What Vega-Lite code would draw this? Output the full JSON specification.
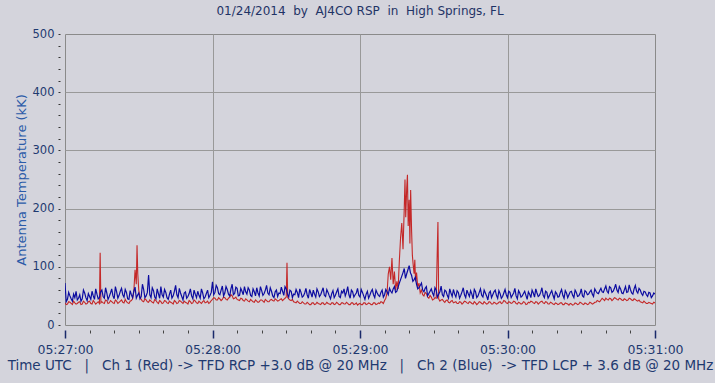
{
"$schema":"https://vega.github.io/schema/vega-lite/v6.json",
"width":590,"height":291,
"autosize":"none",
"padding":{"left":65,"top":34,"right":60,"bottom":58},
"background":"#D4D4DC",
"title":{"text":"01/24/2014 \u00a0by \u00a0AJ4CO RSP \u00a0in \u00a0High Springs, FL","font":"DejaVu Sans","fontSize":12,"fontWeight":"normal","color":"#1F3366","anchor":"middle","offset":10},
"datasets":{
"red":[{"t":0,"v":38},{"t":1,"v":36},{"t":2,"v":39},{"t":3,"v":35},{"t":4,"v":38},{"t":5,"v":37},{"t":6,"v":40},{"t":7,"v":36},{"t":8,"v":39},{"t":9,"v":37},{"t":10,"v":41},{"t":11,"v":36},{"t":12,"v":39},{"t":13,"v":38},{"t":14,"v":37},{"t":14.3,"v":124},{"t":14.6,"v":38},{"t":15,"v":40},{"t":16,"v":37},{"t":17,"v":42},{"t":18,"v":38},{"t":19,"v":40},{"t":20,"v":37},{"t":21,"v":41},{"t":22,"v":39},{"t":23,"v":43},{"t":24,"v":38},{"t":25,"v":40},{"t":26,"v":37},{"t":27,"v":42},{"t":28,"v":58},{"t":28.5,"v":95},{"t":29,"v":70},{"t":29.3,"v":137},{"t":29.6,"v":88},{"t":30,"v":60},{"t":31,"v":44},{"t":32,"v":40},{"t":33,"v":43},{"t":34,"v":39},{"t":35,"v":41},{"t":36,"v":38},{"t":37,"v":42},{"t":38,"v":37},{"t":39,"v":40},{"t":40,"v":38},{"t":41,"v":41},{"t":42,"v":37},{"t":43,"v":39},{"t":44,"v":36},{"t":45,"v":40},{"t":46,"v":38},{"t":47,"v":41},{"t":48,"v":37},{"t":49,"v":39},{"t":50,"v":36},{"t":51,"v":40},{"t":52,"v":38},{"t":53,"v":41},{"t":54,"v":37},{"t":55,"v":39},{"t":56,"v":40},{"t":57,"v":38},{"t":58,"v":41},{"t":59,"v":39},{"t":60,"v":44},{"t":61,"v":46},{"t":62,"v":43},{"t":63,"v":45},{"t":64,"v":44},{"t":65,"v":47},{"t":66,"v":43},{"t":67,"v":48},{"t":68,"v":50},{"t":69,"v":46},{"t":70,"v":44},{"t":71,"v":42},{"t":72,"v":45},{"t":73,"v":41},{"t":74,"v":43},{"t":75,"v":40},{"t":76,"v":42},{"t":77,"v":39},{"t":78,"v":41},{"t":79,"v":40},{"t":80,"v":43},{"t":81,"v":39},{"t":82,"v":42},{"t":83,"v":40},{"t":84,"v":44},{"t":85,"v":41},{"t":86,"v":43},{"t":87,"v":42},{"t":88,"v":45},{"t":89,"v":44},{"t":90,"v":48},{"t":90.3,"v":107},{"t":90.6,"v":47},{"t":91,"v":45},{"t":92,"v":42},{"t":93,"v":40},{"t":94,"v":38},{"t":95,"v":39},{"t":96,"v":37},{"t":97,"v":38},{"t":98,"v":36},{"t":99,"v":37},{"t":100,"v":35},{"t":101,"v":38},{"t":102,"v":36},{"t":103,"v":37},{"t":104,"v":35},{"t":105,"v":38},{"t":106,"v":36},{"t":107,"v":37},{"t":108,"v":35},{"t":109,"v":38},{"t":110,"v":36},{"t":111,"v":37},{"t":112,"v":35},{"t":113,"v":38},{"t":114,"v":36},{"t":115,"v":37},{"t":116,"v":35},{"t":117,"v":38},{"t":118,"v":36},{"t":119,"v":34},{"t":120,"v":37},{"t":121,"v":35},{"t":122,"v":38},{"t":123,"v":36},{"t":124,"v":37},{"t":125,"v":35},{"t":126,"v":38},{"t":127,"v":36},{"t":128,"v":37},{"t":129,"v":39},{"t":130,"v":42},{"t":131,"v":55},{"t":131.5,"v":88},{"t":132,"v":100},{"t":132.5,"v":78},{"t":133,"v":115},{"t":133.5,"v":70},{"t":134,"v":92},{"t":134.5,"v":60},{"t":135,"v":75},{"t":135.5,"v":62},{"t":136,"v":110},{"t":136.5,"v":150},{"t":137,"v":175},{"t":137.5,"v":130},{"t":138,"v":200},{"t":138.3,"v":250},{"t":138.6,"v":185},{"t":139,"v":235},{"t":139.3,"v":258},{"t":139.6,"v":170},{"t":140,"v":215},{"t":140.3,"v":140},{"t":140.6,"v":232},{"t":141,"v":160},{"t":141.3,"v":120},{"t":141.6,"v":105},{"t":142,"v":88},{"t":142.3,"v":112},{"t":142.6,"v":75},{"t":143,"v":90},{"t":143.5,"v":65},{"t":144,"v":72},{"t":144.5,"v":55},{"t":145,"v":60},{"t":146,"v":50},{"t":147,"v":54},{"t":148,"v":46},{"t":149,"v":48},{"t":150,"v":44},{"t":151,"v":46},{"t":151.7,"v":177},{"t":152,"v":45},{"t":153,"v":43},{"t":154,"v":41},{"t":155,"v":42},{"t":156,"v":39},{"t":157,"v":41},{"t":158,"v":38},{"t":159,"v":40},{"t":160,"v":37},{"t":161,"v":39},{"t":162,"v":38},{"t":163,"v":40},{"t":164,"v":37},{"t":165,"v":39},{"t":166,"v":36},{"t":167,"v":38},{"t":168,"v":37},{"t":169,"v":39},{"t":170,"v":36},{"t":171,"v":38},{"t":172,"v":37},{"t":173,"v":39},{"t":174,"v":36},{"t":175,"v":38},{"t":176,"v":37},{"t":177,"v":40},{"t":178,"v":38},{"t":179,"v":41},{"t":180,"v":37},{"t":181,"v":39},{"t":182,"v":38},{"t":183,"v":40},{"t":184,"v":36},{"t":185,"v":38},{"t":186,"v":37},{"t":187,"v":39},{"t":188,"v":36},{"t":189,"v":38},{"t":190,"v":40},{"t":191,"v":37},{"t":192,"v":39},{"t":193,"v":38},{"t":194,"v":41},{"t":195,"v":37},{"t":196,"v":39},{"t":197,"v":36},{"t":198,"v":38},{"t":199,"v":35},{"t":200,"v":37},{"t":201,"v":36},{"t":202,"v":38},{"t":203,"v":35},{"t":204,"v":37},{"t":205,"v":34},{"t":206,"v":36},{"t":207,"v":35},{"t":208,"v":37},{"t":209,"v":36},{"t":210,"v":38},{"t":211,"v":35},{"t":212,"v":37},{"t":213,"v":36},{"t":214,"v":38},{"t":215,"v":37},{"t":216,"v":39},{"t":217,"v":41},{"t":218,"v":43},{"t":219,"v":44},{"t":220,"v":46},{"t":221,"v":43},{"t":222,"v":45},{"t":223,"v":44},{"t":224,"v":46},{"t":225,"v":43},{"t":226,"v":45},{"t":227,"v":42},{"t":228,"v":44},{"t":229,"v":43},{"t":230,"v":45},{"t":231,"v":42},{"t":232,"v":44},{"t":233,"v":41},{"t":234,"v":40},{"t":235,"v":38},{"t":236,"v":39},{"t":237,"v":37},{"t":238,"v":38},{"t":239,"v":36},{"t":240,"v":38},
{"t":0.5,"v":35},{"t":1.5,"v":40},{"t":2.5,"v":37},{"t":3.5,"v":41},{"t":4.5,"v":36},{"t":5.5,"v":39},{"t":6.5,"v":35},{"t":7.5,"v":41},{"t":8.5,"v":36},{"t":9.5,"v":40},{"t":10.5,"v":37},{"t":11.5,"v":42},{"t":12.5,"v":36},{"t":13.5,"v":40},{"t":15.5,"v":38},{"t":16.5,"v":43},{"t":17.5,"v":37},{"t":18.5,"v":42},{"t":19.5,"v":38},{"t":20.5,"v":43},{"t":21.5,"v":37},{"t":22.5,"v":41},{"t":23.5,"v":39},{"t":24.5,"v":44},{"t":25.5,"v":38},{"t":26.5,"v":41},{"t":27.5,"v":45},{"t":30.5,"v":48},{"t":31.5,"v":41},{"t":32.5,"v":45},{"t":33.5,"v":40},{"t":34.5,"v":43},{"t":35.5,"v":39},{"t":36.5,"v":44},{"t":37.5,"v":39},{"t":38.5,"v":42},{"t":39.5,"v":37},{"t":40.5,"v":42},{"t":41.5,"v":38},{"t":42.5,"v":41},{"t":43.5,"v":38},{"t":44.5,"v":42},{"t":45.5,"v":37},{"t":46.5,"v":42},{"t":47.5,"v":39},{"t":48.5,"v":41},{"t":49.5,"v":38},{"t":50.5,"v":42},{"t":51.5,"v":37},{"t":52.5,"v":43},{"t":53.5,"v":38},{"t":54.5,"v":41},{"t":55.5,"v":37},{"t":56.5,"v":42},{"t":57.5,"v":39},{"t":58.5,"v":37},{"t":59.5,"v":42},{"t":60.5,"v":47},{"t":61.5,"v":43},{"t":62.5,"v":47},{"t":63.5,"v":42},{"t":64.5,"v":48},{"t":65.5,"v":44},{"t":66.5,"v":46},{"t":67.5,"v":52},{"t":68.5,"v":45},{"t":69.5,"v":48},{"t":70.5,"v":43},{"t":71.5,"v":46},{"t":72.5,"v":42},{"t":73.5,"v":45},{"t":74.5,"v":41},{"t":75.5,"v":44},{"t":76.5,"v":40},{"t":77.5,"v":43},{"t":78.5,"v":39},{"t":79.5,"v":43},{"t":80.5,"v":41},{"t":81.5,"v":44},{"t":82.5,"v":40},{"t":83.5,"v":43},{"t":84.5,"v":42},{"t":85.5,"v":45},{"t":86.5,"v":41},{"t":87.5,"v":44},{"t":88.5,"v":42},{"t":89.5,"v":46},{"t":91.5,"v":43},{"t":92.5,"v":44},{"t":93.5,"v":39},{"t":94.5,"v":41},{"t":95.5,"v":37},{"t":96.5,"v":40},{"t":97.5,"v":36},{"t":98.5,"v":39},{"t":99.5,"v":35},{"t":100.5,"v":38},{"t":101.5,"v":35},{"t":102.5,"v":39},{"t":103.5,"v":36},{"t":104.5,"v":38},{"t":105.5,"v":35},{"t":106.5,"v":39},{"t":107.5,"v":36},{"t":108.5,"v":38},{"t":109.5,"v":35},{"t":110.5,"v":39},{"t":111.5,"v":35},{"t":112.5,"v":38},{"t":113.5,"v":36},{"t":114.5,"v":39},{"t":115.5,"v":35},{"t":116.5,"v":38},{"t":117.5,"v":35},{"t":118.5,"v":38},{"t":119.5,"v":36},{"t":120.5,"v":35},{"t":121.5,"v":38},{"t":122.5,"v":35},{"t":123.5,"v":38},{"t":124.5,"v":35},{"t":125.5,"v":38},{"t":126.5,"v":35},{"t":127.5,"v":38},{"t":128.5,"v":40},{"t":129.5,"v":37},{"t":130.5,"v":46},{"t":145.5,"v":52},{"t":146.5,"v":56},{"t":147.5,"v":48},{"t":148.5,"v":51},{"t":149.5,"v":43},{"t":150.5,"v":47},{"t":152.5,"v":41},{"t":153.5,"v":44},{"t":154.5,"v":39},{"t":155.5,"v":43},{"t":156.5,"v":38},{"t":157.5,"v":42},{"t":158.5,"v":39},{"t":159.5,"v":37},{"t":160.5,"v":40},{"t":161.5,"v":36},{"t":162.5,"v":41},{"t":163.5,"v":38},{"t":164.5,"v":40},{"t":165.5,"v":37},{"t":166.5,"v":40},{"t":167.5,"v":35},{"t":168.5,"v":40},{"t":169.5,"v":37},{"t":170.5,"v":40},{"t":171.5,"v":36},{"t":172.5,"v":40},{"t":173.5,"v":36},{"t":174.5,"v":39},{"t":175.5,"v":36},{"t":176.5,"v":39},{"t":177.5,"v":37},{"t":178.5,"v":42},{"t":179.5,"v":38},{"t":180.5,"v":40},{"t":181.5,"v":37},{"t":182.5,"v":41},{"t":183.5,"v":37},{"t":184.5,"v":39},{"t":185.5,"v":36},{"t":186.5,"v":40},{"t":187.5,"v":35},{"t":188.5,"v":39},{"t":189.5,"v":41},{"t":190.5,"v":38},{"t":191.5,"v":40},{"t":192.5,"v":36},{"t":193.5,"v":40},{"t":194.5,"v":38},{"t":195.5,"v":40},{"t":196.5,"v":36},{"t":197.5,"v":39},{"t":198.5,"v":36},{"t":199.5,"v":38},{"t":200.5,"v":35},{"t":201.5,"v":38},{"t":202.5,"v":35},{"t":203.5,"v":38},{"t":204.5,"v":36},{"t":205.5,"v":37},{"t":206.5,"v":34},{"t":207.5,"v":38},{"t":208.5,"v":35},{"t":209.5,"v":39},{"t":210.5,"v":36},{"t":211.5,"v":38},{"t":212.5,"v":35},{"t":213.5,"v":39},{"t":214.5,"v":36},{"t":215.5,"v":39},{"t":216.5,"v":42},{"t":217.5,"v":40},{"t":218.5,"v":46},{"t":219.5,"v":42},{"t":220.5,"v":44},{"t":221.5,"v":46},{"t":222.5,"v":42},{"t":223.5,"v":47},{"t":224.5,"v":44},{"t":225.5,"v":46},{"t":226.5,"v":43},{"t":227.5,"v":45},{"t":228.5,"v":42},{"t":229.5,"v":46},{"t":230.5,"v":43},{"t":231.5,"v":45},{"t":232.5,"v":42},{"t":233.5,"v":43},{"t":234.5,"v":39},{"t":235.5,"v":41},{"t":236.5,"v":37},{"t":237.5,"v":39},{"t":238.5,"v":37},{"t":239.5,"v":39}],
"blue":[{"t":0,"v":72},{"t":1,"v":44},{"t":2,"v":50},{"t":3,"v":41},{"t":4,"v":47},{"t":5,"v":43},{"t":6,"v":52},{"t":7,"v":45},{"t":8,"v":55},{"t":9,"v":42},{"t":10,"v":49},{"t":11,"v":58},{"t":12,"v":44},{"t":13,"v":53},{"t":14,"v":47},{"t":15,"v":60},{"t":16,"v":46},{"t":17,"v":55},{"t":18,"v":49},{"t":19,"v":62},{"t":20,"v":45},{"t":21,"v":57},{"t":22,"v":51},{"t":23,"v":63},{"t":24,"v":48},{"t":25,"v":56},{"t":26,"v":44},{"t":27,"v":52},{"t":28,"v":58},{"t":29,"v":46},{"t":30,"v":55},{"t":31,"v":49},{"t":32,"v":61},{"t":33,"v":50},{"t":34,"v":86},{"t":35,"v":47},{"t":36,"v":59},{"t":37,"v":45},{"t":38,"v":54},{"t":39,"v":66},{"t":40,"v":48},{"t":41,"v":56},{"t":42,"v":44},{"t":43,"v":60},{"t":44,"v":50},{"t":45,"v":68},{"t":46,"v":47},{"t":47,"v":55},{"t":48,"v":43},{"t":49,"v":57},{"t":50,"v":49},{"t":51,"v":62},{"t":52,"v":45},{"t":53,"v":53},{"t":54,"v":58},{"t":55,"v":46},{"t":56,"v":55},{"t":57,"v":48},{"t":58,"v":60},{"t":59,"v":51},{"t":60,"v":74},{"t":61,"v":56},{"t":62,"v":64},{"t":63,"v":52},{"t":64,"v":67},{"t":65,"v":55},{"t":66,"v":61},{"t":67,"v":50},{"t":68,"v":70},{"t":69,"v":54},{"t":70,"v":63},{"t":71,"v":51},{"t":72,"v":58},{"t":73,"v":66},{"t":74,"v":53},{"t":75,"v":60},{"t":76,"v":49},{"t":77,"v":57},{"t":78,"v":64},{"t":79,"v":50},{"t":80,"v":59},{"t":81,"v":54},{"t":82,"v":68},{"t":83,"v":52},{"t":84,"v":58},{"t":85,"v":47},{"t":86,"v":60},{"t":87,"v":55},{"t":88,"v":65},{"t":89,"v":51},{"t":90,"v":62},{"t":91,"v":48},{"t":92,"v":58},{"t":93,"v":53},{"t":94,"v":61},{"t":95,"v":47},{"t":96,"v":56},{"t":97,"v":50},{"t":98,"v":63},{"t":99,"v":46},{"t":100,"v":55},{"t":101,"v":60},{"t":102,"v":48},{"t":103,"v":57},{"t":104,"v":52},{"t":105,"v":64},{"t":106,"v":49},{"t":107,"v":56},{"t":108,"v":45},{"t":109,"v":59},{"t":110,"v":51},{"t":111,"v":62},{"t":112,"v":47},{"t":113,"v":55},{"t":114,"v":50},{"t":115,"v":66},{"t":116,"v":46},{"t":117,"v":57},{"t":118,"v":52},{"t":119,"v":63},{"t":120,"v":48},{"t":121,"v":56},{"t":122,"v":44},{"t":123,"v":58},{"t":124,"v":51},{"t":125,"v":61},{"t":126,"v":47},{"t":127,"v":55},{"t":128,"v":49},{"t":129,"v":60},{"t":130,"v":52},{"t":131,"v":57},{"t":132,"v":63},{"t":133,"v":55},{"t":134,"v":66},{"t":135,"v":58},{"t":136,"v":72},{"t":137,"v":84},{"t":138,"v":97},{"t":139,"v":88},{"t":140,"v":102},{"t":141,"v":85},{"t":142,"v":78},{"t":143,"v":70},{"t":144,"v":64},{"t":145,"v":72},{"t":146,"v":57},{"t":147,"v":66},{"t":148,"v":54},{"t":149,"v":62},{"t":150,"v":50},{"t":151,"v":60},{"t":152,"v":53},{"t":153,"v":67},{"t":154,"v":49},{"t":155,"v":58},{"t":156,"v":46},{"t":157,"v":55},{"t":158,"v":61},{"t":159,"v":48},{"t":160,"v":56},{"t":161,"v":51},{"t":162,"v":64},{"t":163,"v":47},{"t":164,"v":54},{"t":165,"v":59},{"t":166,"v":45},{"t":167,"v":57},{"t":168,"v":50},{"t":169,"v":62},{"t":170,"v":48},{"t":171,"v":55},{"t":172,"v":43},{"t":173,"v":58},{"t":174,"v":52},{"t":175,"v":60},{"t":176,"v":46},{"t":177,"v":54},{"t":178,"v":49},{"t":179,"v":61},{"t":180,"v":47},{"t":181,"v":56},{"t":182,"v":51},{"t":183,"v":63},{"t":184,"v":45},{"t":185,"v":55},{"t":186,"v":50},{"t":187,"v":58},{"t":188,"v":44},{"t":189,"v":53},{"t":190,"v":60},{"t":191,"v":48},{"t":192,"v":55},{"t":193,"v":51},{"t":194,"v":64},{"t":195,"v":47},{"t":196,"v":56},{"t":197,"v":50},{"t":198,"v":59},{"t":199,"v":45},{"t":200,"v":54},{"t":201,"v":49},{"t":202,"v":61},{"t":203,"v":46},{"t":204,"v":55},{"t":205,"v":52},{"t":206,"v":58},{"t":207,"v":47},{"t":208,"v":56},{"t":209,"v":50},{"t":210,"v":62},{"t":211,"v":48},{"t":212,"v":57},{"t":213,"v":53},{"t":214,"v":60},{"t":215,"v":49},{"t":216,"v":58},{"t":217,"v":54},{"t":218,"v":63},{"t":219,"v":56},{"t":220,"v":67},{"t":221,"v":55},{"t":222,"v":64},{"t":223,"v":58},{"t":224,"v":70},{"t":225,"v":56},{"t":226,"v":62},{"t":227,"v":54},{"t":228,"v":66},{"t":229,"v":57},{"t":230,"v":61},{"t":231,"v":53},{"t":232,"v":68},{"t":233,"v":55},{"t":234,"v":60},{"t":235,"v":51},{"t":236,"v":57},{"t":237,"v":49},{"t":238,"v":55},{"t":239,"v":50},{"t":240,"v":53},
{"t":0.5,"v":40},{"t":1.5,"v":56},{"t":2.5,"v":45},{"t":3.5,"v":53},{"t":4.5,"v":58},{"t":5.5,"v":46},{"t":6.5,"v":41},{"t":7.5,"v":60},{"t":8.5,"v":47},{"t":9.5,"v":54},{"t":10.5,"v":44},{"t":11.5,"v":50},{"t":12.5,"v":62},{"t":13.5,"v":45},{"t":14.5,"v":57},{"t":15.5,"v":49},{"t":16.5,"v":64},{"t":17.5,"v":44},{"t":18.5,"v":55},{"t":19.5,"v":50},{"t":20.5,"v":66},{"t":21.5,"v":46},{"t":22.5,"v":58},{"t":23.5,"v":52},{"t":24.5,"v":61},{"t":25.5,"v":45},{"t":26.5,"v":59},{"t":27.5,"v":47},{"t":28.5,"v":65},{"t":29.5,"v":51},{"t":30.5,"v":45},{"t":31.5,"v":70},{"t":32.5,"v":47},{"t":33.5,"v":56},{"t":34.5,"v":52},{"t":35.5,"v":64},{"t":36.5,"v":48},{"t":37.5,"v":62},{"t":38.5,"v":46},{"t":39.5,"v":52},{"t":40.5,"v":61},{"t":41.5,"v":47},{"t":42.5,"v":53},{"t":43.5,"v":46},{"t":44.5,"v":58},{"t":45.5,"v":52},{"t":46.5,"v":63},{"t":47.5,"v":49},{"t":48.5,"v":55},{"t":49.5,"v":46},{"t":50.5,"v":54},{"t":51.5,"v":50},{"t":52.5,"v":60},{"t":53.5,"v":47},{"t":54.5,"v":51},{"t":55.5,"v":62},{"t":56.5,"v":45},{"t":57.5,"v":54},{"t":58.5,"v":47},{"t":59.5,"v":56},{"t":60.5,"v":52},{"t":61.5,"v":68},{"t":62.5,"v":54},{"t":63.5,"v":60},{"t":64.5,"v":50},{"t":65.5,"v":66},{"t":66.5,"v":53},{"t":67.5,"v":62},{"t":68.5,"v":52},{"t":69.5,"v":65},{"t":70.5,"v":50},{"t":71.5,"v":63},{"t":72.5,"v":52},{"t":73.5,"v":57},{"t":74.5,"v":64},{"t":75.5,"v":51},{"t":76.5,"v":62},{"t":77.5,"v":50},{"t":78.5,"v":55},{"t":79.5,"v":66},{"t":80.5,"v":51},{"t":81.5,"v":60},{"t":82.5,"v":55},{"t":83.5,"v":64},{"t":84.5,"v":50},{"t":85.5,"v":57},{"t":86.5,"v":49},{"t":87.5,"v":54},{"t":88.5,"v":58},{"t":89.5,"v":66},{"t":90.5,"v":53},{"t":91.5,"v":60},{"t":92.5,"v":47},{"t":93.5,"v":52},{"t":94.5,"v":56},{"t":95.5,"v":62},{"t":96.5,"v":48},{"t":97.5,"v":55},{"t":98.5,"v":52},{"t":99.5,"v":61},{"t":100.5,"v":48},{"t":101.5,"v":53},{"t":102.5,"v":62},{"t":103.5,"v":49},{"t":104.5,"v":58},{"t":105.5,"v":51},{"t":106.5,"v":61},{"t":107.5,"v":50},{"t":108.5,"v":54},{"t":109.5,"v":47},{"t":110.5,"v":57},{"t":111.5,"v":49},{"t":112.5,"v":58},{"t":113.5,"v":62},{"t":114.5,"v":56},{"t":115.5,"v":52},{"t":116.5,"v":60},{"t":117.5,"v":48},{"t":118.5,"v":55},{"t":119.5,"v":51},{"t":120.5,"v":61},{"t":121.5,"v":50},{"t":122.5,"v":53},{"t":123.5,"v":46},{"t":124.5,"v":57},{"t":125.5,"v":52},{"t":126.5,"v":60},{"t":127.5,"v":51},{"t":128.5,"v":56},{"t":129.5,"v":48},{"t":130.5,"v":61},{"t":131.5,"v":52},{"t":132.5,"v":58},{"t":133.5,"v":62},{"t":134.5,"v":56},{"t":135.5,"v":65},{"t":136.5,"v":78},{"t":137.5,"v":90},{"t":138.5,"v":80},{"t":139.5,"v":95},{"t":140.5,"v":90},{"t":141.5,"v":75},{"t":142.5,"v":82},{"t":143.5,"v":62},{"t":144.5,"v":68},{"t":145.5,"v":60},{"t":146.5,"v":63},{"t":147.5,"v":50},{"t":148.5,"v":58},{"t":149.5,"v":55},{"t":150.5,"v":64},{"t":151.5,"v":48},{"t":152.5,"v":57},{"t":153.5,"v":52},{"t":154.5,"v":60},{"t":155.5,"v":51},{"t":156.5,"v":62},{"t":157.5,"v":49},{"t":158.5,"v":53},{"t":159.5,"v":59},{"t":160.5,"v":46},{"t":161.5,"v":57},{"t":162.5,"v":52},{"t":163.5,"v":60},{"t":164.5,"v":49},{"t":165.5,"v":53},{"t":166.5,"v":61},{"t":167.5,"v":47},{"t":168.5,"v":56},{"t":169.5,"v":51},{"t":170.5,"v":60},{"t":171.5,"v":50},{"t":172.5,"v":55},{"t":173.5,"v":47},{"t":174.5,"v":57},{"t":175.5,"v":51},{"t":176.5,"v":59},{"t":177.5,"v":46},{"t":178.5,"v":55},{"t":179.5,"v":52},{"t":180.5,"v":58},{"t":181.5,"v":47},{"t":182.5,"v":55},{"t":183.5,"v":50},{"t":184.5,"v":59},{"t":185.5,"v":48},{"t":186.5,"v":54},{"t":187.5,"v":51},{"t":188.5,"v":57},{"t":189.5,"v":47},{"t":190.5,"v":55},{"t":191.5,"v":62},{"t":192.5,"v":49},{"t":193.5,"v":56},{"t":194.5,"v":51},{"t":195.5,"v":58},{"t":196.5,"v":46},{"t":197.5,"v":55},{"t":198.5,"v":51},{"t":199.5,"v":57},{"t":200.5,"v":48},{"t":201.5,"v":56},{"t":202.5,"v":51},{"t":203.5,"v":59},{"t":204.5,"v":47},{"t":205.5,"v":57},{"t":206.5,"v":51},{"t":207.5,"v":60},{"t":208.5,"v":49},{"t":209.5,"v":54},{"t":210.5,"v":50},{"t":211.5,"v":59},{"t":212.5,"v":52},{"t":213.5,"v":57},{"t":214.5,"v":53},{"t":215.5,"v":62},{"t":216.5,"v":55},{"t":217.5,"v":59},{"t":218.5,"v":57},{"t":219.5,"v":62},{"t":220.5,"v":58},{"t":221.5,"v":66},{"t":222.5,"v":56},{"t":223.5,"v":63},{"t":224.5,"v":60},{"t":225.5,"v":66},{"t":226.5,"v":55},{"t":227.5,"v":60},{"t":228.5,"v":56},{"t":229.5,"v":69},{"t":230.5,"v":55},{"t":231.5,"v":62},{"t":232.5,"v":58},{"t":233.5,"v":63},{"t":234.5,"v":54},{"t":235.5,"v":58},{"t":236.5,"v":52},{"t":237.5,"v":56},{"t":238.5,"v":47},{"t":239.5,"v":55}]
},
"encoding":{
"x":{"field":"t","type":"quantitative","scale":{"domain":[0,240],"nice":false,"zero":false},
"axis":{"values":[0,10,20,30,40,50,60,70,80,90,100,110,120,130,140,150,160,170,180,190,200,210,220,230,240],
"labelExpr":"datum.value % 60 === 0 ? '05:' + (27 + datum.value/60) + ':00' : ''",
"tickSize":{"condition":{"test":"datum.value % 60 === 0","value":8},"value":3},
"tickColor":{"condition":{"test":"datum.value % 60 === 0","value":"#1A2A6A"},"value":"#444444"},
"tickWidth":{"condition":{"test":"datum.value % 60 === 0","value":1.5},"value":1},
"grid":true,"gridColor":"#999999","gridWidth":1,
"gridOpacity":{"condition":{"test":"datum.value % 60 === 0 && datum.value > 0 && datum.value < 240","value":1},"value":0},
"domain":false,"offset":5,"labelFlush":false,"labelOverlap":false,
"labelFont":"DejaVu Sans","labelFontSize":12.5,"labelColor":"#1F3A70","labelPadding":5,
"title":"Time UTC \u00a0 | \u00a0 Ch 1 (Red) -> TFD RCP +3.0 dB @ 20 MHz \u00a0 | \u00a0 Ch 2 (Blue) \u00a0-> TFD LCP + 3.6 dB @ 20 MHz",
"titleFont":"DejaVu Sans","titleFontSize":13.5,"titleFontWeight":"normal","titleColor":"#1F3A70","titlePadding":3}},
"y":{"field":"v","type":"quantitative","scale":{"domain":[0,500],"nice":false},
"axis":{"values":[0,20,40,60,80,100,120,140,160,180,200,220,240,260,280,300,320,340,360,380,400,420,440,460,480,500],
"labelExpr":"datum.value % 100 === 0 ? datum.label : ''",
"tickSize":2,"tickColor":"#333333","domain":false,"offset":5,"labelFlush":false,"labelOverlap":false,
"grid":true,"gridColor":"#999999","gridWidth":1,
"gridOpacity":{"condition":{"test":"datum.value % 100 === 0 && datum.value > 0 && datum.value < 500","value":1},"value":0},
"labelFont":"DejaVu Sans","labelFontSize":11.5,"labelColor":"#1F3A70","labelPadding":4,
"title":"Antenna Temperature (kK)","titleFont":"DejaVu Sans","titleFontSize":13,"titleFontWeight":"normal","titleColor":"#2B5BA8","titlePadding":4}}
},
"layer":[
{"data":{"name":"red"},"mark":{"type":"line","color":"#C42828","strokeWidth":1.1,"clip":true}},
{"data":{"name":"blue"},"mark":{"type":"line","color":"#0C0CA0","strokeWidth":1.2,"clip":true}}
],
"config":{"view":{"stroke":"#8A8A8A","strokeWidth":1}}
}
